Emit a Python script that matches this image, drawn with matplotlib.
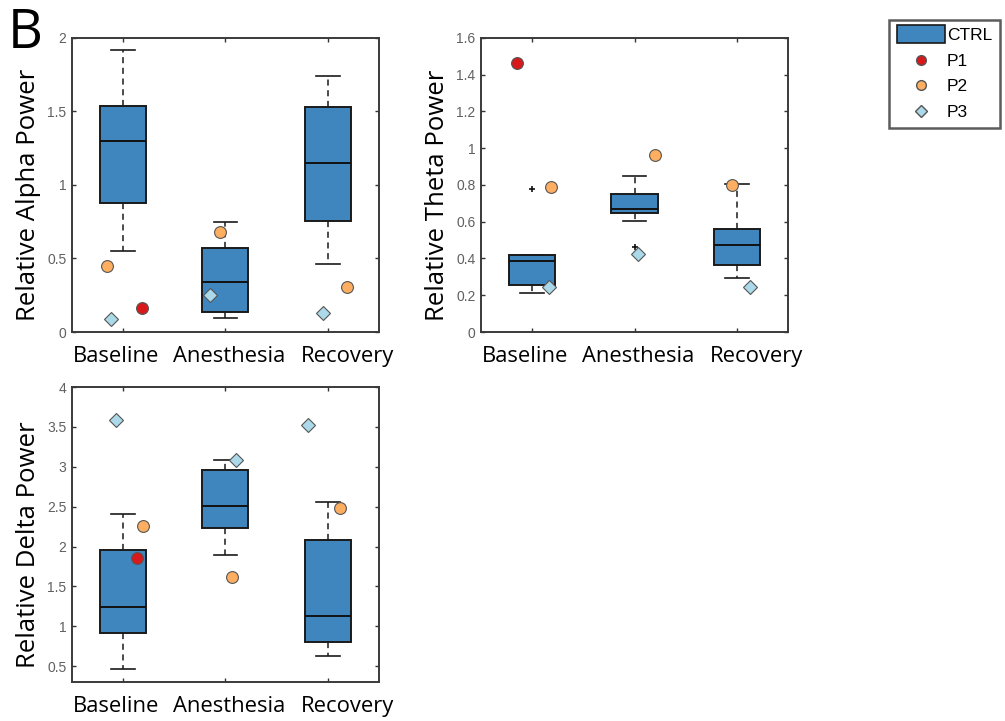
import matplotlib.pyplot as plt
from matplotlib.patches import Patch, Rectangle
from matplotlib.lines import Line2D
from matplotlib.legend_handler import HandlerPatch
from matplotlib.transforms import ScaledTranslation, blended_transform_factory

conditions = ["Baseline", "Anesthesia", "Recovery"]

# CTRL box summaries per condition: (whislo, q1, med, q3, whishi)
alpha_ctrl = [(0.55, 0.88, 1.30, 1.54, 1.92),
              (0.095, 0.136, 0.34, 0.57, 0.75),
              (0.46, 0.757, 1.15, 1.53, 1.74)]
theta_ctrl = [(0.21, 0.256, 0.384, 0.418, 0.418),
              (0.605, 0.649, 0.669, 0.751, 0.847),
              (0.293, 0.364, 0.476, 0.562, 0.807)]
delta_ctrl = [(0.458, 0.921, 1.247, 1.953, 2.404),
              (1.899, 2.229, 2.513, 2.96, 3.09),
              (0.625, 0.796, 1.13, 2.079, 2.563)]

# CTRL outliers (one list per condition)
alpha_fliers = [[], [], []]
theta_fliers = [[0.776], [0.46], []]
delta_fliers = [[], [], []]

# patients, None = not shown
alpha_p1 = [0.166, None, None]
alpha_p2 = [0.447, 0.68, 0.306]
alpha_p3 = [0.09, 0.249, 0.13]
theta_p1 = [1.465, None, None]
theta_p2 = [0.789, 0.965, 0.80]
theta_p3 = [0.244, 0.425, 0.245]
delta_p1 = [1.85, None, None]
delta_p2 = [2.26, 1.615, 2.488]
delta_p3 = [3.59, 3.08, 3.528]

# horizontal scatter of the patient markers
alpha_jit = {"P1": [0.18, 0, 0], "P2": [-0.16, -0.05, 0.19], "P3": [-0.12, -0.15, -0.05]}
theta_jit = {"P1": [-0.15, 0, 0], "P2": [0.18, 0.2, -0.05], "P3": [0.16, 0.035, 0.13]}
delta_jit = {"P1": [0.14, 0, 0], "P2": [0.19, 0.065, 0.115], "P3": [-0.065, 0.105, -0.19]}

box_blue = "#3f86bf"
p1_col = "#d7191c"
p2_col = "#fdae61"
p3_col = "#abd9e9"

tick_font = "Liberation Sans"
label_font = "Open Sans"

# condition names sit a bit wider apart than the ticks (points)
label_shift = [-5, 2.5, 14.5]


def panel(fig, ax, ctrl, fliers, p1, p2, p3, jit, ylim, yticks, ylabel):
    stats = []
    for (lo, q1, med, q3, hi), fl in zip(ctrl, fliers):
        stats.append(dict(whislo=lo, q1=q1, med=med, q3=q3, whishi=hi, fliers=fl))
    ax.bxp(stats, positions=[1, 2, 3], widths=0.45, patch_artist=True,
           boxprops=dict(facecolor=box_blue, edgecolor="#1a1a1a", linewidth=1.4),
           medianprops=dict(color="#111111", linewidth=1.4),
           whiskerprops=dict(color="#1a1a1a", linewidth=1.1, linestyle=(0, (4, 3))),
           capprops=dict(color="#1a1a1a", linewidth=1.2),
           capwidths=0.23,
           flierprops=dict(marker="+", markersize=5, markeredgecolor="#111111",
                           markeredgewidth=1.2))
    for vals, key, mk, col, ms in [(p1, "P1", "o", p1_col, 8.5),
                                   (p2, "P2", "o", p2_col, 8.5),
                                   (p3, "P3", "D", p3_col, 7.5)]:
        for i, v in enumerate(vals):
            if v is None:
                continue
            ax.plot(i + 1 + jit[key][i], v, marker=mk, color=col, markersize=ms,
                    markeredgecolor="#555555", markeredgewidth=0.8, linestyle="none",
                    zorder=4)
    ax.set_xlim(0.5, 3.5)
    ax.set_ylim(*ylim)
    ax.set_yticks(yticks)
    ax.set_yticklabels([f"{t:g}" for t in yticks], fontsize=10, color="#606060",
                       family=tick_font)
    ax.set_xticks([1, 2, 3])
    ax.set_xticklabels([])
    base = blended_transform_factory(ax.transData, ax.transAxes)
    for i, (name, dx) in enumerate(zip(conditions, label_shift)):
        tr = base + ScaledTranslation(dx / 72, -10 / 72, fig.dpi_scale_trans)
        ax.text(i + 1, 0, name, transform=tr, ha="center", va="top",
                fontsize=15.8, family=label_font)
    ax.set_ylabel(ylabel, fontsize=18.5, family=label_font)
    ax.yaxis.set_label_coords(-0.10, 0.465)
    ax.tick_params(direction="in", length=3, width=1, top=True, right=True,
                   color="#333333")
    ax.tick_params(axis="y", pad=4)
    for s in ax.spines.values():
        s.set_color("#3a3a3a")
        s.set_linewidth(1.4)


fig = plt.figure(figsize=(10.05, 7.21), dpi=100)
ax1 = fig.add_axes([0.0716, 0.5395, 0.3055, 0.408])
ax2 = fig.add_axes([0.4786, 0.5395, 0.3055, 0.408])
ax3 = fig.add_axes([0.0716, 0.0541, 0.3055, 0.409])

panel(fig, ax1, alpha_ctrl, alpha_fliers, alpha_p1, alpha_p2, alpha_p3, alpha_jit,
      (0, 2), [0, 0.5, 1, 1.5, 2], "Relative Alpha Power")
panel(fig, ax2, theta_ctrl, theta_fliers, theta_p1, theta_p2, theta_p3, theta_jit,
      (0, 1.6), [0, 0.2, 0.4, 0.6, 0.8, 1, 1.2, 1.4, 1.6], "Relative Theta Power")
panel(fig, ax3, delta_ctrl, delta_fliers, delta_p1, delta_p2, delta_p3, delta_jit,
      (0.3, 4), [0.5, 1, 1.5, 2, 2.5, 3, 3.5, 4], "Relative Delta Power")

fig.text(0.008, 0.933, "B", fontsize=39, family=label_font, va="baseline")


def wide_box(legend, orig_handle, xdescent, ydescent, width, height, fontsize):
    return Rectangle((-xdescent, -ydescent - 0.25 * height), width, height * 1.5)


handles = [Patch(facecolor=box_blue, edgecolor="#1a1a1a", linewidth=1.2, label="CTRL"),
           Line2D([], [], marker="o", color=p1_col, markeredgecolor="#555555",
                  markersize=7, linestyle="none", label="P1"),
           Line2D([], [], marker="o", color=p2_col, markeredgecolor="#555555",
                  markersize=7, linestyle="none", label="P2"),
           Line2D([], [], marker="D", color=p3_col, markeredgecolor="#555555",
                  markersize=6, linestyle="none", label="P3")]
leg = fig.legend(handles=handles, loc="upper left", bbox_to_anchor=(0.885, 0.972),
                 handlelength=2.75, handletextpad=0.12,
                 borderpad=0.45, labelspacing=0.6, fancybox=False,
                 edgecolor="#333333", borderaxespad=0,
                 handler_map={Patch: HandlerPatch(patch_func=wide_box)},
                 prop={"family": tick_font, "size": 12.5})
leg.get_frame().set_linewidth(1.8)

fig.savefig("out.png", dpi=100, facecolor="white")
